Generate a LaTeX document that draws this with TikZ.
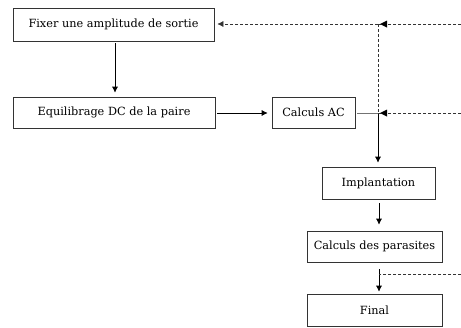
\documentclass[tikz,border=0pt]{standalone}
\usepackage{fontspec}
\setmainfont{DejaVu Serif}
\usetikzlibrary{arrows.meta}
\begin{document}
\begin{tikzpicture}[x=1pt,y=-1pt,
  box/.style={draw=black!80,line width=0.7pt,inner sep=0pt,font=\fontsize{11.3}{13}\selectfont},
  arr/.style={draw=black,line width=0.7pt,-{Latex[length=6pt,width=6pt]}},
  dashline/.style={draw=black!80,line width=0.6pt,dash pattern=on 3pt off 2pt}]
\useasboundingbox[fill=white] (0,0) rectangle (461,327);
\node[box,minimum width=201pt,minimum height=33pt] (A) at (113.5,24.5) {Fixer une amplitude de sortie};
\node[box,minimum width=202pt,minimum height=31pt] (B) at (114,112.5) {Equilibrage DC de la paire};
\node[box,minimum width=83pt,minimum height=31pt] (C) at (313.5,112.5) {Calculs AC};
\node[box,minimum width=113pt,minimum height=32pt] (D) at (378.5,183) {Implantation};
\node[box,minimum width=135pt,minimum height=31pt] (E) at (374.5,246.5) {Calculs des parasites};
\node[box,minimum width=135pt,minimum height=32pt] (F) at (374.5,310) {Final};
\coordinate (r1) at (461,24);
\coordinate (j1) at (378,24);
\coordinate (r2) at (461,113);
\coordinate (j2) at (378,113);
\coordinate (r3) at (461,274);
\coordinate (j3) at (379,274);
% solid arrows
\draw[arr,shorten <=2pt,shorten >=4pt] (A.south -| 115,0) -- (B.north -| 115,0);
\draw[arr,shorten <=2pt,shorten >=4pt] (B.east |- 0,113) -- (C.west |- 0,113);
\draw[draw=black!55,line width=0.8pt,shorten <=2pt] (C.east |- 0,113) -- (j2);
\draw[arr,shorten >=4pt] (j2) -- (D.north -| j2);
\draw[arr,shorten <=4pt,shorten >=6pt] (D.south -| 379,0) -- (E.north -| 379,0);
\draw[arr,shorten <=7pt,shorten >=2pt] (E.south -| 379,0) -- (F.north -| 379,0);
% dashed feedback
\draw[dashline] (r1) -- (j1);
\draw[dashline,-{Latex[length=6pt,width=6pt]},shorten >=3pt] (j1) -- (A.east |- j1);
\draw[dashline] (j1) -- (j2);
\fill[black] (380,24) -- ++(7,-3.5) -- ++(0,7) -- cycle;
\draw[dashline] (r2) -- (j2);
\fill[black] (380,113) -- ++(7,-3.5) -- ++(0,7) -- cycle;
\draw[dashline] (r3) -- (j3);
\end{tikzpicture}
\end{document}
